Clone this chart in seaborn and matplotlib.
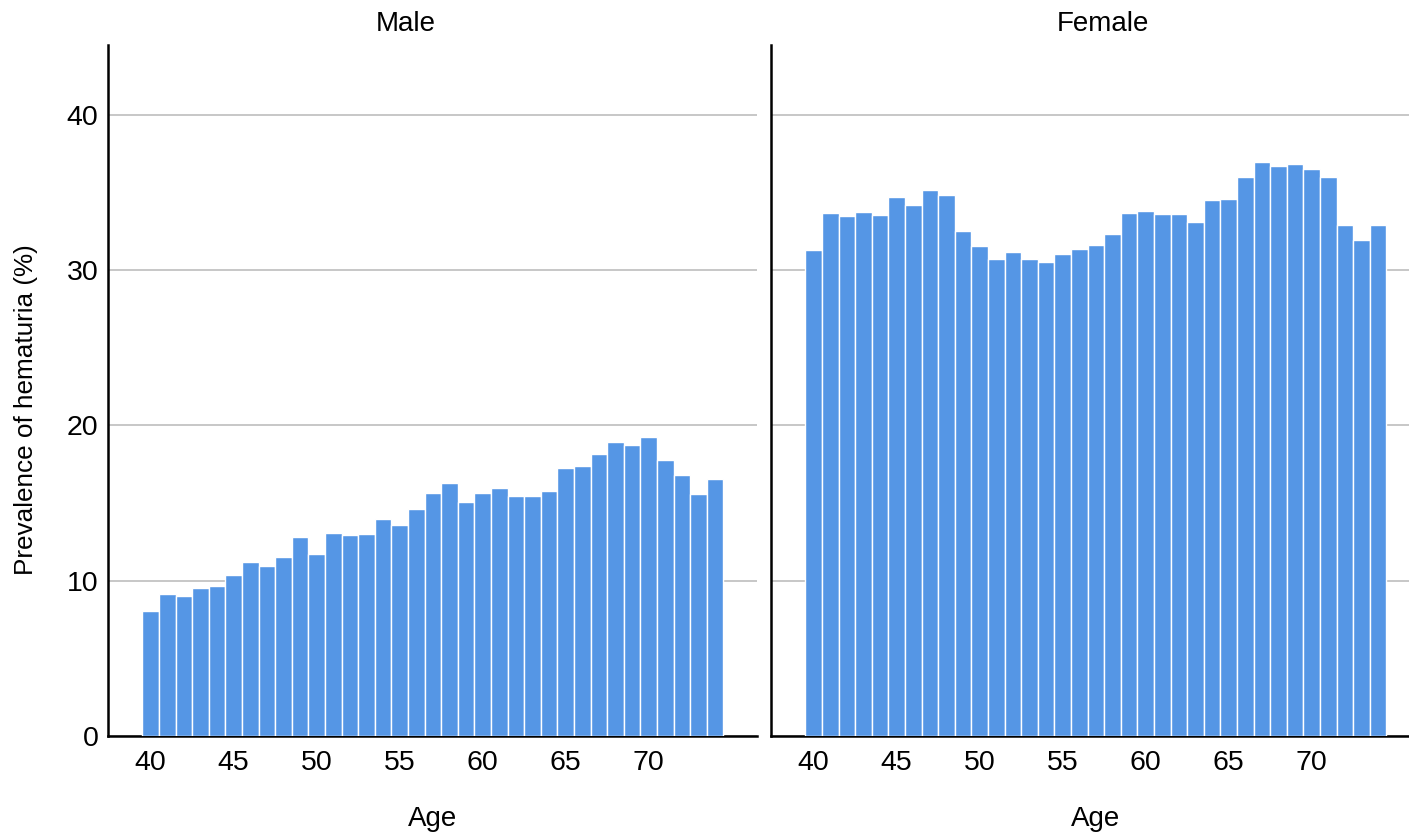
import matplotlib
matplotlib.use("Agg")
import matplotlib.pyplot as plt
import seaborn as sns
import numpy as np

# Prevalence of hematuria (%) by single year of age
ages = list(range(40, 75))
male = [8.07, 9.14, 9.0, 9.55, 9.63, 10.39, 11.23, 10.95, 11.53, 12.79,
        11.74, 13.09, 12.92, 13.03, 13.97, 13.59, 14.64, 15.65, 16.27, 15.05,
        15.65, 15.97, 15.45, 15.43, 15.78, 17.24, 17.39, 18.18, 18.95, 18.76,
        19.23, 17.75, 16.79, 15.56, 16.55]
female = [31.28, 33.66, 33.46, 33.76, 33.53, 34.73, 34.17, 35.14, 34.84, 32.54,
          31.53, 30.74, 31.15, 30.7, 30.5, 31.06, 31.36, 31.62, 32.3, 33.66,
          33.79, 33.59, 33.6, 33.1, 34.49, 34.56, 36.0, 36.94, 36.7, 36.81,
          36.51, 36.0, 32.88, 31.96, 32.92]
panels = ["Male", "Female"]
x_ticks = [40, 45, 50, 55, 60, 65, 70]
y_ticks = [0, 10, 20, 30, 40]

sns.set_theme(style="white")
plt.rcParams["font.family"] = ["Liberation Sans", "DejaVu Sans"]

bar_color = "#5596e5"
fig = plt.figure(figsize=(14.09, 8.38), dpi=100)
ax_m = fig.add_axes([0.0767, 0.1217, 0.4606, 0.8246])
ax_f = fig.add_axes([0.5472, 0.1217, 0.4606, 0.8246])

title_x = [0.459, 0.512]
for ax, name, vals, tx in zip([ax_m, ax_f], panels, [male, female], title_x):
    sns.barplot(x=ages, y=vals, native_scale=True, width=1.0, color=bar_color,
                edgecolor="white", linewidth=1.0, saturation=1, ax=ax, zorder=3)
    ax.set_xlim(37.43, 76.53)
    ax.set_ylim(0, 44.5)
    ax.set_xticks(x_ticks)
    ax.set_yticks(y_ticks)
    ax.yaxis.grid(True, color="#bdbdbd", linewidth=1.2, zorder=0)
    ax.set_axisbelow(True)
    for side in ["top", "right"]:
        ax.spines[side].set_visible(False)
    for side in ["left", "bottom"]:
        ax.spines[side].set_visible(True)
        ax.spines[side].set_color("black")
        ax.spines[side].set_linewidth(1.8)
    ax.tick_params(axis="both", length=0, labelsize=20.5, colors="black")
    ax.tick_params(axis="x", pad=10)
    ax.tick_params(axis="y", pad=7)
    ax.set_title(name, fontsize=20, pad=10, color="black", x=tx)
    ax.set_xlabel("Age", fontsize=20, labelpad=22, color="black")

ax_m.set_ylabel("Prevalence of hematuria (%)", fontsize=18.8, color="black")
ax_m.yaxis.set_label_coords(-0.108, 0.472)
ax_f.set_ylabel("")
ax_f.set_yticklabels([])

fig.savefig("out.png", dpi=100)
